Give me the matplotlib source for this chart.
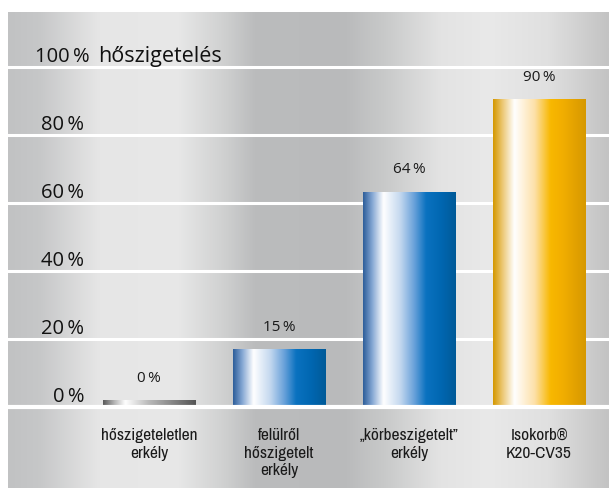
import numpy as np
import matplotlib.pyplot as plt
from matplotlib import font_manager
from matplotlib.colors import LinearSegmentedColormap

# data
categories = ["hőszigeteletlen\nerkély",
              "felülről\nhőszigetelt\nerkély",
              "„körbeszigetelt”\nerkély",
              "Isokorb®\nK20-CV35"]
values = [0, 15, 64, 90]               # printed value labels
bar_heights = [2, 16.8, 63.2, 90.3]    # drawn bar heights (%)
bar_styles = ["gray", "blue", "blue", "gold"]
yticks = [0, 20, 40, 60, 80, 100]
title_text = "hőszigetelés"

plt.rcParams["font.family"] = ["Open Sans", "DejaVu Sans"]

# a narrow upright face for the category labels, if one is installed
narrow = None
for f in font_manager.fontManager.ttflist:
    if ("Narrow" in f.name or "Condensed" in f.name) and f.style == "normal" \
            and f.weight in (400, "normal", "regular", "book"):
        narrow = f.fname
        break

# gradients
bg_cmap = LinearSegmentedColormap.from_list("bg", [
    (0.00, "#c1c2c3"), (0.05, "#c6c7c8"), (0.15, "#e6e6e6"),
    (0.28, "#e8e8e8"), (0.36, "#cfd0d0"), (0.41, "#bbbcbd"),
    (0.56, "#b9babb"), (0.63, "#c9caca"), (0.72, "#e3e3e3"),
    (0.80, "#e9e9e9"), (0.90, "#e0e0e0"), (1.00, "#c3c3c3")])

bar_cmaps = {
    "gray": LinearSegmentedColormap.from_list("g", [
        (0.0, "#5a5a5a"), (0.12, "#b4b4b4"), (0.24, "#ffffff"),
        (0.5, "#b8b8b8"), (1.0, "#555555")]),
    "blue": LinearSegmentedColormap.from_list("b", [
        (0.0, "#2d5e9a"), (0.1, "#86a8d4"), (0.22, "#ffffff"),
        (0.4, "#c4d8ef"), (0.55, "#6aa2da"), (0.68, "#0a72c0"),
        (0.85, "#0066b0"), (1.0, "#005a98")]),
    "gold": LinearSegmentedColormap.from_list("o", [
        (0.0, "#d49800"), (0.1, "#ecc772"), (0.23, "#ffffff"),
        (0.45, "#fde0a8"), (0.62, "#f8b800"), (0.75, "#f2ae00"),
        (1.0, "#d69800")]),
}

fig = plt.figure(figsize=(6.09, 4.88), dpi=100, facecolor="white")
ax = fig.add_axes([8 / 609, 0, 601 / 609, 1 - 12 / 488])
ax.axis("off")

grad = np.linspace(0, 1, 256).reshape(1, -1)

# background panel
ax.imshow(grad, cmap=bg_cmap, extent=[0, 1, 0, 1], transform=ax.transAxes,
          aspect="auto", zorder=0)

# white grid lines
for t in yticks[1:]:
    ax.axhline(t, color="white", lw=2.2, zorder=1)
ax.axhline(0, color="white", lw=3, zorder=4)

x = np.arange(len(categories))
bars = ax.bar(x, bar_heights, width=0.708, color="none", zorder=2)

for bar, style in zip(bars, bar_styles):
    x0, y0 = bar.get_xy()
    w, h = bar.get_width(), bar.get_height()
    ax.imshow(grad, cmap=bar_cmaps[style], extent=[x0, x0 + w, y0, y0 + h],
              aspect="auto", interpolation="bicubic", zorder=3)

# value labels
for xi, h, v in zip(x, bar_heights, values):
    ax.annotate(f"{v}\u2009%", xy=(xi, h), xytext=(0, 16),
                textcoords="offset points", ha="center", va="center",
                fontsize=11, color="#1a1a1a")

# y labels (left, above the lines)
for t in yticks[:-1]:
    ax.annotate(f"{t}\u2009%", xy=(-0.5, t), xytext=(0, 3.6),
                textcoords="offset points", ha="right", va="baseline",
                fontsize=14.5, color="#111111")
ax.annotate(f"{yticks[-1]}\u2009%", xy=(-0.877, yticks[-1]),
            xytext=(0, 3.6), textcoords="offset points", ha="left",
            va="baseline", fontsize=14.5, color="#111111")
ax.annotate(title_text, xy=(-0.39, yticks[-1]),
            xytext=(0, 3.6), textcoords="offset points", ha="left",
            va="baseline", fontsize=15.5, color="#111111")

# category labels
if narrow is not None:
    cat_font = dict(fontproperties=font_manager.FontProperties(fname=narrow, size=12.5))
else:
    cat_font = dict(fontsize=10, family=["DejaVu Sans"])
for xi, cat in zip(x, categories):
    ax.text(xi, -6.2, cat, ha="center", va="top",
            linespacing=1.2, color="#1a1a1a", **cat_font)

ax.set_xlim(-1.085, 3.538)
ax.set_ylim(-23.8, 116.2)

fig.savefig("out.png", dpi=100, facecolor="white")
